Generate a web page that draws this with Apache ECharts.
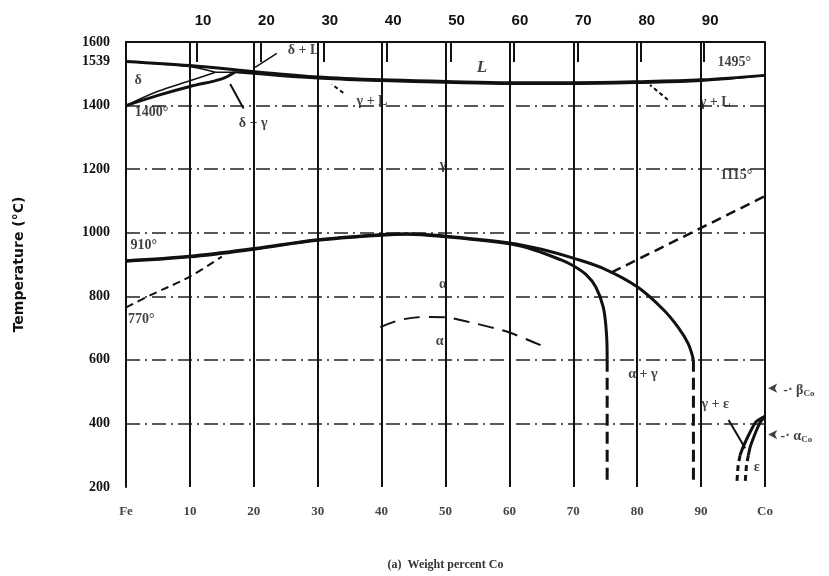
<!DOCTYPE html>
<html>
<head>
<meta charset="utf-8">
<script src="https://cdn.jsdelivr.net/npm/echarts@6/dist/echarts.min.js"></script>
<style>html,body{margin:0;padding:0;background:#fff}#c{width:829px;height:576px}</style>
</head>
<body>
<div id="c"></div>
<script>
// ---- data (weight percent Co, temperature °C) ----
const topTicks = [10, 20, 30, 40, 50, 60, 70, 80, 90];
const yLabelValues = [200, 400, 600, 800, 1000, 1200, 1400, 1539, 1600];
const liquidus = [[0,1539],[10,1526],[21,1505],[30,1490],[40,1481],[50,1476],[60,1472],[70,1472],[80,1475],[90,1481],[100,1495]];
const gammaSolidus = [[17,1505],[30,1485],[40,1477],[50,1472],[60,1468],[70,1468],[80,1471],[90,1477],[100,1495]];
const deltaSolidus = [[0,1539],[6,1530],[11,1519],[14,1505]];
const peritectic = [[14,1505],[21,1505]];
const deltaSolvus = [[0,1400],[5,1445],[10,1478],[14,1505]];
const gammaDeltaSolvus = [[0,1400],[5,1432],[10,1460],[15,1484],[17,1505]];
const gammaAlphaUpper = [[0,912],[10,926],[20,950],[30,978],[40,994],[44,997],[50,989],[60,968],[65,948],[70,920],[75,885],[80,830],[84,760],[86.5,700],[88,650],[88.8,600]];
const gammaAlphaLower = [[0,910],[10,924],[20,948],[30,976],[40,992],[44,995],[50,987],[60,965],[64,945],[68,915],[70,896],[72,868],[73.5,830],[74.7,765],[75.2,680],[75.3,600]];
const alphaDashedLeft = [[75.3,600],[75.3,205]];
const alphaDashedRight = [[88.8,600],[88.8,205]];
const curieAlpha = [[0,765],[4,805],[10,862],[15,925]];
const curieGamma = [[76,875],[100,1115]];
const alphaPrime = [[39.8,703],[43,726],[47,735],[50,734],[53,722],[57,703],[60,686],[65,645]];
const epsLeftSolid = [[100,422],[98.6,405],[97.6,370],[96.6,327],[96.1,300]];
const epsLeftDashed = [[96.1,300],[95.8,270],[95.6,215]];
const epsRightSolid = [[100,422],[99.3,405],[98.7,380],[97.7,327],[97.4,300]];
const epsRightDashed = [[97.4,300],[97.1,270],[96.9,215]];
const leaderDeltaL = [[23.6,1564],[20.2,1520]];
const leaderDeltaGamma = [[18.4,1391],[16.3,1468]];
const leaderGammaL1 = [[34,1440],[32.2,1467]];
const leaderGammaL2 = [[84.8,1418],[82,1465]];
const leaderGammaEps = [[94.3,411],[96.9,322]];
const arrowHeads = [[100.5,511],[100.5,365]];
// annotation texts [x, T, text]
const labels = [
  [1.9,1480,'δ'], [27.8,1575,'δ + L'], [19.9,1345,'δ + γ'], [38.5,1414,'γ + L'],
  [55.7,1521,'{i|L}'], [95.2,1537,'1495°'], [92.2,1411,'γ + L'], [49.6,1213,'γ'],
  [95.5,1180,'1115°'], [2.8,960,'910°'], [2.4,726,'770°'], [49.6,836,'α'],
  [49.4,657,"α'"], [80.9,553,'α + γ'], [92.2,459,'γ + ε'], [98.7,262,'ε'],
  [105.3,505,'-· β{s|Co}'], [104.9,360,'-· α{s|Co}'], [4.0,1380,'1400°']
];

const chart = echarts.init(document.getElementById('c'), null, {renderer: 'canvas'});
const serif = 'Liberation Serif';
function line(data, width, type, extra) {
  return Object.assign({
    type: 'line', data: data, xAxisIndex: 0, yAxisIndex: 0,
    showSymbol: false, symbol: 'none', smooth: 0.35, silent: true, z: 5, clip: false,
    lineStyle: {color: '#111', width: width, type: type || 'solid'}
  }, extra || {});
}

const option = {
  backgroundColor: '#fff',
  animation: false,
  grid: {left: 126, right: 64, top: 42, bottom: 89, containLabel: false},
  xAxis: [{
    type: 'value', min: 0, max: 100, interval: 10, position: 'bottom',
    name: '(a)  Weight percent Co', nameLocation: 'middle', nameGap: 72,
    nameTextStyle: {fontFamily: serif, fontSize: 12, fontWeight: 'bold', color: '#333'},
    axisLine: {show: false}, axisTick: {show: false},
    axisLabel: {margin: 18, fontFamily: serif, fontSize: 13, fontWeight: 'bold', color: '#444',
      formatter: v => v === 0 ? 'Fe' : (v === 100 ? 'Co' : String(v))},
    splitLine: {show: true, lineStyle: {color: '#111', width: 2}}
  }, {
    type: 'value', min: -1.2, max: 99.6, position: 'top',
    axisLine: {show: true, lineStyle: {color: '#111', width: 2}},
    axisTick: {show: true, inside: true, length: 20, customValues: topTicks, lineStyle: {color: '#111', width: 2}},
    axisLabel: {show: true, customValues: topTicks, margin: 14, padding: [0, 0, 0, 12], fontFamily: 'Liberation Sans', fontSize: 15, fontWeight: 'bold', color: '#111',
      formatter: v => String(v)},
    splitLine: {show: false}
  }],
  yAxis: [{
    type: 'value', min: 200, max: 1600, interval: 200,
    name: 'Temperature (°C)', nameLocation: 'middle', nameGap: 100, nameRotate: 90,
    nameTextStyle: {fontFamily: 'DejaVu Sans', fontSize: 14, fontWeight: 'bold', color: '#111'},
    axisLine: {show: true, lineStyle: {color: '#111', width: 2}},
    axisTick: {show: false},
    axisLabel: {customValues: yLabelValues, margin: 16, fontFamily: serif, fontSize: 14, fontWeight: 'bold', color: '#111',
      formatter: v => String(v)},
    splitLine: {show: true, showMinLine: false, showMaxLine: false, lineStyle: {color: '#222', width: 1.5, type: [14, 5, 2, 5]}}
  }],
  series: [
    line(liquidus, 3),
    line(gammaSolidus, 2),
    line(deltaSolidus, 1.5),
    line(peritectic, 1.5, 'solid', {smooth: false}),
    line(deltaSolvus, 1.5),
    line(gammaDeltaSolvus, 3),
    line(gammaAlphaUpper, 3),
    line(gammaAlphaLower, 3),
    line(alphaDashedLeft, 3, [12, 6], {smooth: false}),
    line(alphaDashedRight, 3, [12, 6], {smooth: false}),
    line(curieAlpha, 2, [8, 5]),
    line(curieGamma, 2.5, [10, 6], {smooth: false}),
    line(alphaPrime, 2, [16, 9]),
    line(epsLeftSolid, 3, 'solid', {smooth: 0.2}),
    line(epsLeftDashed, 3, [6, 4], {smooth: false}),
    line(epsRightSolid, 3, 'solid', {smooth: 0.2}),
    line(epsRightDashed, 3, [6, 4], {smooth: false}),
    line(leaderDeltaL, 1.5, 'solid', {smooth: false}),
    line(leaderDeltaGamma, 2, 'solid', {smooth: false}),
    line(leaderGammaL1, 2, [4, 3], {smooth: false}),
    line(leaderGammaL2, 2, [4, 3], {smooth: false}),
    line(leaderGammaEps, 2, 'solid', {smooth: false}),
    {
      type: 'scatter', xAxisIndex: 0, yAxisIndex: 0, clip: false, silent: true, z: 6,
      symbol: 'arrow', symbolSize: [7, 9], symbolRotate: 90, itemStyle: {color: '#111'},
      data: arrowHeads
    },
    {
      type: 'scatter', xAxisIndex: 0, yAxisIndex: 0, symbolSize: 0, clip: false, silent: true, z: 10,
      data: labels.map(l => ({value: [l[0], l[1]], name: l[2]})),
      label: {
        show: true, position: 'inside', formatter: p => p.name,
        fontFamily: serif, fontSize: 14, fontWeight: 'bold', color: '#111',
        rich: {
          s: {fontFamily: serif, fontSize: 9, fontWeight: 'bold', verticalAlign: 'bottom', padding: [8, 0, 0, 0], color: '#111'},
          i: {fontFamily: serif, fontSize: 17, fontWeight: 'bold', fontStyle: 'italic', color: '#111'}
        }
      }
    }
  ]
};
chart.setOption(option);
</script>
</body>
</html>
